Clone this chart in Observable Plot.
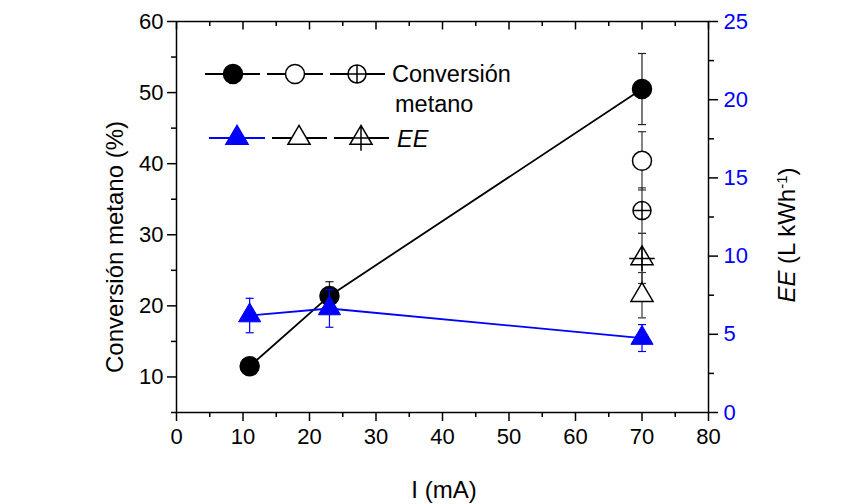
<!DOCTYPE html>
<html>
<head>
<meta charset="utf-8">
<script src="https://cdn.jsdelivr.net/npm/d3@7"></script>
<script src="https://cdn.jsdelivr.net/npm/@observablehq/plot@0.6"></script>
<style>
  html, body { margin: 0; padding: 0; background: #fff; }
  #chart { position: relative; width: 865px; height: 504px; }
  #chart svg { position: absolute; left: 0; top: 0; display: block; }
</style>
</head>
<body>
<div id="chart"></div>
<script>
// ---- data ----
const current = [11, 23, 70];                 // I (mA)
const conversion = [11.5, 21.4, 50.5];        // Conversión metano (%)
const conversionErr = [0.6, 2.0, 5.0];
const efficiency = [6.2, 6.65, 4.76];         // EE (L kWh-1)
const efficiencyErr = [1.1, 1.2, 0.86];
// extra runs at 70 mA (open / crossed markers)
const extraCurrent = [70, 70];
const conversionExtra = [40.4, 33.4];
const conversionExtraErr = [4.1, 3.2];
const efficiencyExtra = [7.5, 9.85];
const efficiencyExtraErr = [1.45, 1.6];
// ticks
const xTicks = [0, 10, 20, 30, 40, 50, 60, 70, 80];
const xMinor = [5, 15, 25, 35, 45, 55, 65, 75];
const leftTicks = [10, 20, 30, 40, 50, 60];
const leftMinor = [5, 15, 25, 35, 45, 55];
const rightTicks = [0, 5, 10, 15, 20, 25];
const rightMinor = [2.5, 7.5, 12.5, 17.5, 22.5];

// ---- tables ----
const convMain = current.map((x, i) => ({x, y: conversion[i], e: conversionErr[i]}));
const convExtra = extraCurrent.map((x, i) => ({x, y: conversionExtra[i], e: conversionExtraErr[i], k: i}));
const effMain = current.map((x, i) => ({x, y: efficiency[i], e: efficiencyErr[i]}));
const effExtra = extraCurrent.map((x, i) => ({x, y: efficiencyExtra[i], e: efficiencyExtraErr[i], k: i}));

// ---- custom symbols ----
const rad = s => Math.sqrt(s / Math.PI);
const triangle = {draw(c, s) { const r = rad(s), w = r * 1.35, h = r * 2.3;
  c.moveTo(0, -h * 2 / 3); c.lineTo(w, h / 3); c.lineTo(-w, h / 3); c.closePath(); }};
const triangleCross = {draw(c, s) { const r = rad(s), w = r * 1.35, h = r * 2.3;
  c.moveTo(0, -h * 2 / 3); c.lineTo(w, h / 3); c.lineTo(-w, h / 3); c.closePath();
  c.moveTo(-w * 1.15, 0); c.lineTo(w * 1.15, 0);
  c.moveTo(0, -h * 2 / 3); c.lineTo(0, h / 3 + r * 0.8); }};
const circleCross = {draw(c, s) { const r = rad(s);
  c.moveTo(r, 0); c.arc(0, 0, r, 0, 2 * Math.PI);
  c.moveTo(-r, 0); c.lineTo(r, 0); c.moveTo(0, -r); c.lineTo(0, r); }};
const cap = {draw(c, s) { const r = rad(s); c.moveTo(-r, 0); c.lineTo(r, 0); }};
const tickDown = {draw(c, s) { const r = rad(s); c.moveTo(0, 0); c.lineTo(0, r); }};

const FONT = "'Liberation Sans', Arial, sans-serif";
const common = {
  width: 865, height: 504,
  marginLeft: 176, marginRight: 157, marginTop: 21, marginBottom: 92,
  style: {fontFamily: FONT, fontSize: "22px", background: "transparent", color: "black", overflow: "visible"}
};
const blank = () => "";

function errorBars(data, stroke) {
  return [
    Plot.ruleX(data, {x: "x", y1: d => d.y - d.e, y2: d => d.y + d.e, stroke, strokeWidth: 1.2}),
    Plot.dot(data, {x: "x", y: d => d.y + d.e, symbol: cap, r: 4, stroke, fill: "none", strokeWidth: 1.2}),
    Plot.dot(data, {x: "x", y: d => d.y - d.e, symbol: cap, r: 4, stroke, fill: "none", strokeWidth: 1.2})
  ];
}

// ---- plot 1: conversion (left axis) ----
const p1 = Plot.plot({
  ...common,
  x: {domain: [0, 80]},
  y: {domain: [5, 60]},
  marks: [
    Plot.frame({stroke: "black", strokeWidth: 1.5}),
    Plot.axisX({ticks: xTicks, tickSize: 9, tickPadding: 7, strokeWidth: 1.5, label: null, fontSize: 22}),
    Plot.axisX({ticks: xMinor, tickSize: 5, tickFormat: blank, strokeWidth: 1.5, label: null}),
    Plot.dot(xTicks, {x: d => d, frameAnchor: "top", symbol: tickDown, r: 8, stroke: "black", strokeWidth: 1.5}),
    Plot.dot(xMinor, {x: d => d, frameAnchor: "top", symbol: tickDown, r: 4.5, stroke: "black", strokeWidth: 1.5}),
    Plot.axisY({ticks: leftTicks, anchor: "left", tickSize: 9, tickPadding: 4, strokeWidth: 1.5, label: null, fontSize: 22}),
    Plot.axisY({ticks: leftMinor, anchor: "left", tickSize: 5, tickFormat: blank, strokeWidth: 1.5, label: null}),
    ...errorBars(convExtra, "#333"),
    ...errorBars(convMain, "#222"),
    Plot.line(convMain, {x: "x", y: "y", stroke: "black", strokeWidth: 1.8}),
    Plot.dot(convMain, {x: "x", y: "y", r: 9.5, fill: "black", stroke: "black"}),
    Plot.dot(convExtra.filter(d => d.k === 0), {x: "x", y: "y", r: 9.5, fill: "white", stroke: "black", strokeWidth: 1.5}),
    Plot.dot(convExtra.filter(d => d.k === 1), {x: "x", y: "y", r: 9, symbol: circleCross, fill: "white", stroke: "black", strokeWidth: 1.5})
  ]
});

// ---- plot 2: EE (right axis) ----
const p2 = Plot.plot({
  ...common,
  x: {domain: [0, 80], axis: null},
  y: {domain: [0, 25]},
  marks: [
    Plot.axisY({ticks: rightTicks, anchor: "right", tickSize: 9, tickPadding: 6, strokeWidth: 1.5, stroke: "black", fill: "#0000ff", label: null, fontSize: 22}),
    Plot.axisY({ticks: rightMinor, anchor: "right", tickSize: 5, tickFormat: blank, strokeWidth: 1.5, stroke: "black", label: null}),
    ...errorBars(effExtra, "#333"),
    ...errorBars(effMain, "#0000ff"),
    Plot.line(effMain, {x: "x", y: "y", stroke: "#0000ff", strokeWidth: 1.8}),
    Plot.dot(effExtra.filter(d => d.k === 0), {x: "x", y: "y", r: 8.2, symbol: triangle, fill: "white", stroke: "black", strokeWidth: 1.5}),
    Plot.dot(effExtra.filter(d => d.k === 1), {x: "x", y: "y", r: 8.2, symbol: triangleCross, fill: "none", stroke: "black", strokeWidth: 1.5}),
    Plot.dot(effMain, {x: "x", y: "y", r: 8.2, symbol: triangle, fill: "#0000ff", stroke: "#0000ff", strokeWidth: 1})
  ]
});

const chart = document.getElementById("chart");
chart.append(p1, p2);

// ---- titles & legend ----
const g = d3.select(p2).append("g").attr("font-family", FONT).attr("fill", "black").attr("text-anchor", "start");

g.append("text").attr("transform", "translate(123,247) rotate(-90)")
  .attr("text-anchor", "middle").attr("font-size", 24).text("Conversión metano (%)");
g.append("text").attr("x", 444).attr("y", 498)
  .attr("text-anchor", "middle").attr("font-size", 24).text("I (mA)");
const rt = g.append("text").attr("transform", "translate(795,235) rotate(-90)")
  .attr("text-anchor", "middle").attr("font-size", 24);
rt.append("tspan").attr("font-style", "italic").text("EE");
rt.append("tspan").text(" (L kWh");
rt.append("tspan").attr("baseline-shift", "super").attr("font-size", 15).text("-1");
rt.append("tspan").text(")");

const legendRows = [
  {y: 74, items: [
    {x1: 205, x2: 260, cx: 233, type: d3.symbolCircle, r: 9.5, fill: "black", stroke: "black", line: "black"},
    {x1: 267, x2: 323, cx: 295, type: d3.symbolCircle, r: 9.5, fill: "white", stroke: "black", line: "black"},
    {x1: 330, x2: 385, cx: 357, type: circleCross, r: 9, fill: "white", stroke: "black", line: "black"}
  ]},
  {y: 138, items: [
    {x1: 209, x2: 265, cx: 237, type: triangle, r: 8.2, fill: "#0000ff", stroke: "#0000ff", line: "#0000ff"},
    {x1: 272, x2: 327, cx: 299, type: triangle, r: 8.2, fill: "white", stroke: "black", line: "black"},
    {x1: 334, x2: 389, cx: 361, type: triangleCross, r: 8.2, fill: "white", stroke: "black", line: "black"}
  ]}
];
for (const row of legendRows) {
  for (const it of row.items) {
    g.append("line").attr("x1", it.x1).attr("x2", it.x2).attr("y1", row.y).attr("y2", row.y)
      .attr("stroke", it.line).attr("stroke-width", 1.8);
    g.append("path").attr("transform", `translate(${it.cx},${row.y})`)
      .attr("d", d3.symbol().type(it.type).size(Math.PI * it.r * it.r)())
      .attr("fill", it.fill).attr("stroke", it.stroke).attr("stroke-width", 1.5);
  }
}
g.append("text").attr("x", 392).attr("y", 82).attr("font-size", 23.5).attr("text-anchor", "start").text("Conversión");
g.append("text").attr("x", 395).attr("y", 112).attr("font-size", 23.5).attr("text-anchor", "start").text("metano");
g.append("text").attr("x", 397).attr("y", 147).attr("font-size", 23.5).attr("text-anchor", "start").attr("font-style", "italic").text("EE");
</script>
</body>
</html>
